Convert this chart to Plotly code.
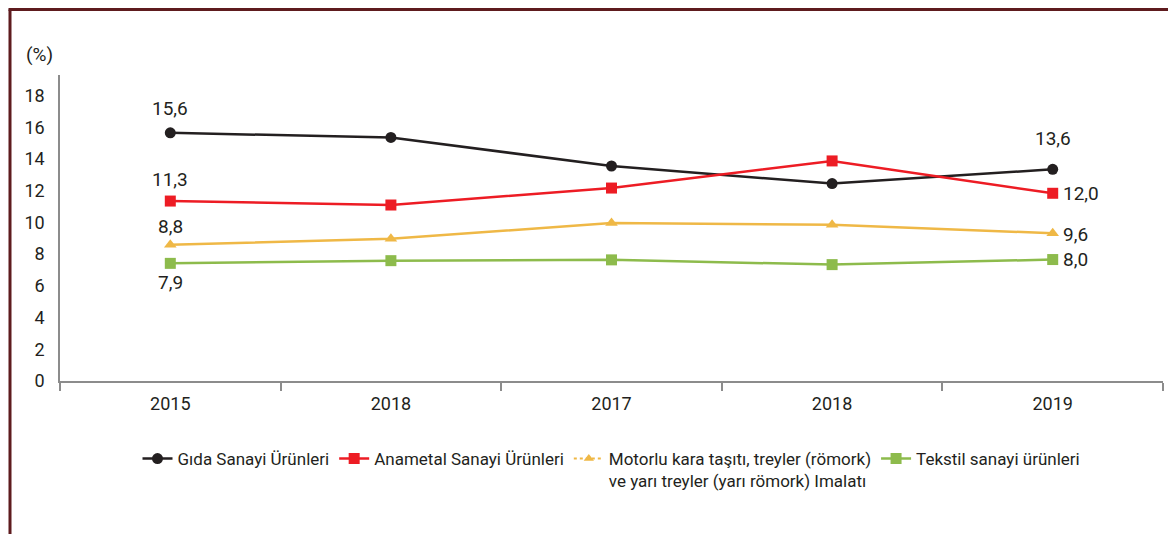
import plotly.graph_objects as go

# ---- data ----
categories = ["2015", "2018", "2017", "2018", "2019"]
gida = [15.65, 15.36, 13.56, 12.45, 13.35]
anametal = [11.35, 11.10, 12.17, 13.88, 11.84]
motorlu = [8.59, 8.97, 9.96, 9.85, 9.32]
tekstil = [7.42, 7.59, 7.64, 7.34, 7.66]

gida_labels = ["15,6", "", "", "", "13,6"]
anametal_labels = ["11,3", "", "", "", "12,0"]
motorlu_labels = ["8,8", "", "", "", "9,6"]
tekstil_labels = ["7,9", "", "", "", "8,0"]

series_names = [
    "Gıda Sanayi Ürünleri",
    "Anametal Sanayi Ürünleri",
    "Motorlu kara taşıtı, treyler (römork)<br>ve yarı treyler (yarı römork) Imalatı",
    "Tekstil sanayi ürünleri",
]

y_ticks = [0, 2, 4, 6, 8, 10, 12, 14, 16, 18]

FONT = "Roboto, DejaVu Sans, sans-serif"
TXT = "#231f20"
BLACK = "#231f20"
RED = "#ed1c24"
YELLOW = "#efb846"
GREEN = "#8dbb4c"


def fnt(size):
    return dict(family=FONT, size=size, color=TXT)


x = list(range(len(categories)))

fig = go.Figure()

fig.add_trace(go.Scatter(
    x=x, y=gida, name=series_names[0], mode="lines+markers",
    line=dict(color=BLACK, width=2.5),
    marker=dict(symbol="circle", size=11, color=BLACK),
    legendrank=1,
))
fig.add_trace(go.Scatter(
    x=x, y=anametal, name=series_names[1], mode="lines+markers",
    line=dict(color=RED, width=2.5),
    marker=dict(symbol="square", size=11, color=RED),
    legendrank=2,
))
fig.add_trace(go.Scatter(
    x=x, y=motorlu, name=series_names[2], mode="lines+markers",
    line=dict(color=YELLOW, width=2.5),
    marker=dict(symbol="triangle-up", size=11, color=YELLOW),
    showlegend=False,
))
# legend-only entry (dotted line style as in the reference legend)
fig.add_trace(go.Scatter(
    x=[None], y=[None], name=series_names[2], mode="lines+markers",
    line=dict(color=YELLOW, width=2, dash="dot"),
    marker=dict(symbol="triangle-up", size=9, color=YELLOW),
    legendrank=3,
))
fig.add_trace(go.Scatter(
    x=x, y=tekstil, name=series_names[3], mode="lines+markers",
    line=dict(color=GREEN, width=2.5),
    marker=dict(symbol="square", size=11, color=GREEN),
    legendrank=4,
))

# data labels: (xanchor, xshift, yshift)
label_specs = [
    (gida, gida_labels, [("center", 0, 24), None, None, None, ("center", 0, 31)]),
    (anametal, anametal_labels, [("center", 0, 22), None, None, None, ("left", 8, 0)]),
    (motorlu, motorlu_labels, [("center", 0, 18), None, None, None, ("left", 8, -1)]),
    (tekstil, tekstil_labels, [("center", 0, -19), None, None, None, ("left", 8, 0)]),
]
annotations = []
for vals, labs, shifts in label_specs:
    for i, (v, t, s) in enumerate(zip(vals, labs, shifts)):
        if t and s is not None:
            annotations.append(dict(
                x=i, y=v, xref="x", yref="y", text=t, showarrow=False,
                xanchor=s[0], xshift=s[1], yshift=s[2],
                font=fnt(19),
            ))

# plot area in page pixels: x 60..1163, y 75..381 (figure is offset 8px by page margin)
PW, PH = 1103, 306
def px_x(p):
    return (p - 60) / PW
def px_y(p):
    return (381 - p) / PH

annotations.append(dict(
    x=px_x(55), y=px_y(68), xref="paper", yref="paper", text="(%)",
    showarrow=False, xanchor="right", yanchor="bottom",
    font=fnt(19),
))

BORDER = "#5e1b1e"
shapes = [
    dict(type="line", xref="paper", yref="paper",
         x0=px_x(10), x1=px_x(10), y0=px_y(540), y1=px_y(9.5),
         line=dict(color=BORDER, width=3)),
    dict(type="line", xref="paper", yref="paper",
         x0=px_x(8.5), x1=px_x(1180), y0=px_y(9.5), y1=px_y(9.5),
         line=dict(color=BORDER, width=3)),
]

fig.update_layout(
    width=1168, height=526,
    margin=dict(l=52, r=13, t=67, b=153),
    paper_bgcolor="white", plot_bgcolor="white",
    font=fnt(18),
    showlegend=True,
    legend=dict(
        orientation="h", x=0.5, xanchor="center", y=px_y(441), yanchor="top",
        font=fnt(17),
        valign="top", itemwidth=30, tracegroupgap=0,
    ),
    annotations=annotations,
    shapes=shapes,
    xaxis=dict(
        range=[-0.5, 4.5], tickmode="array", tickvals=x, ticktext=categories,
        showgrid=False, zeroline=False, showline=True, linecolor="#8c8c8c",
        linewidth=1.5, ticks="", ticklabelstandoff=6, tickfont=fnt(18),
        minor=dict(tickmode="linear", tick0=-0.5, dtick=1, ticks="outside",
                   ticklen=8, tickcolor="#8c8c8c", tickwidth=1.5, showgrid=False),
    ),
    yaxis=dict(
        range=[0, 19.3], tickmode="array", tickvals=y_ticks,
        ticktext=[str(v) for v in y_ticks],
        showgrid=False, zeroline=False, showline=True, linecolor="#8c8c8c",
        linewidth=1.5, ticks="", ticklabelstandoff=10,
        tickfont=fnt(18),
    ),
)

fig.write_html("out.html")
